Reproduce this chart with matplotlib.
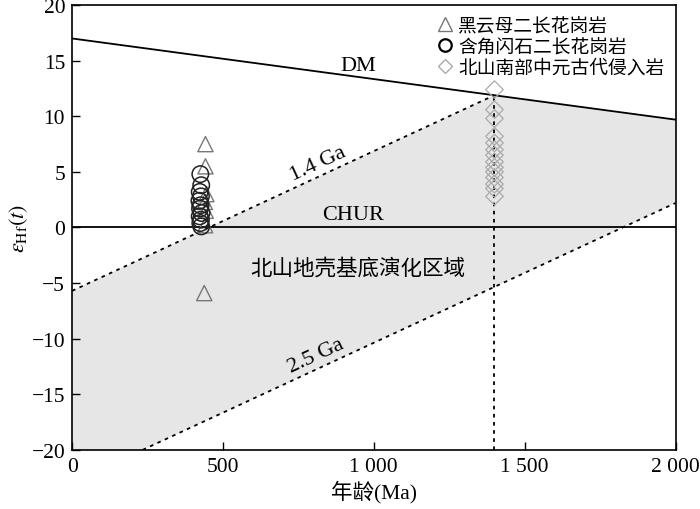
import numpy as np
import matplotlib
matplotlib.use('Agg')
from matplotlib import pyplot as plt
from matplotlib.lines import Line2D

plt.rcParams['font.family'] = ['Liberation Serif', 'Noto Sans CJK SC']
plt.rcParams['mathtext.fontset'] = 'stix'

# model lines (age in Ma, eHf)
dm_age = [0, 2000]
dm_ehf = [17.0, 9.7]
slope_crust = 0.01257          # eHf per Ma of crustal evolution lines
ga14_start = -5.7              # 1.4 Ga line at 0 Ma
ga25_end = 2.2                 # 2.5 Ga line at 2000 Ma

# samples
bt_age = [442, 442, 445, 440, 443, 441, 438]
bt_ehf = [7.5, 5.5, 3.0, 2.3, 1.5, 0.2, -5.9]
hb_age = [425, 428, 423, 427, 422, 426, 424, 429, 423, 427, 425, 428]
hb_ehf = [4.8, 3.8, 3.2, 2.8, 2.4, 2.0, 1.7, 1.3, 1.0, 0.7, 0.4, 0.1]
mp_age = [1400] * 14
mp_ehf = [12.4, 10.6, 9.8, 8.2, 7.6, 7.0, 6.5, 5.9, 5.4, 5.0, 4.5, 3.9, 3.5, 2.8]


def dm(t):
    return np.interp(t, dm_age, dm_ehf)


def line14(t):
    return ga14_start + slope_crust * np.asarray(t)


def line25(t):
    return ga25_end + slope_crust * (np.asarray(t) - 2000)


fig = plt.figure(figsize=(7, 5.1), dpi=100)
ax = fig.add_axes([0.103, 0.116, 0.862, 0.872])

# shaded evolution field
t_cross14 = 1400
t_cross25 = 2000 - (ga25_end + 20) / slope_crust
poly_x = [0, 0, t_cross14, 2000, 2000, t_cross25]
poly_y = [-20, line14(0), line14(t_cross14), dm(2000), line25(2000), -20]
ax.fill(poly_x, poly_y, color='#e6e6e6', lw=0, zorder=0)

ax.plot(dm_age, dm_ehf, color='black', lw=1.3, zorder=2)
ax.axhline(0, color='black', lw=1.3, zorder=2)
dots = (0, (2, 2.5))
t = np.array([0, t_cross14])
ax.plot(t, line14(t), color='black', lw=1.3, ls=dots, zorder=2)
t = np.array([t_cross25, 2000])
ax.plot(t, line25(t), color='black', lw=1.3, ls=dots, zorder=2)
ax.plot([1400, 1400], [-20, dm(1400)], color='black', lw=1.3, ls=dots, zorder=2)

ax.scatter(bt_age, bt_ehf, marker='^', s=120, facecolors='none', edgecolors='#777777', linewidths=1.0, zorder=3)
ax.scatter(hb_age, hb_ehf, marker='o', s=140, facecolors='none', edgecolors='#222222', linewidths=1.1, zorder=4)
ax.scatter(mp_age, mp_ehf, marker='D', s=80, facecolors='none', edgecolors='#aaaaaa', linewidths=0.9, zorder=3)

ang = np.degrees(np.arctan(slope_crust))
ax.text(948, 14.6, 'DM', fontsize=16, ha='center', va='center')
ax.text(932, 1.2, 'CHUR', fontsize=16, ha='center', va='center')
ax.text(815, 5.8, '1.4 Ga', fontsize=16, ha='center', va='center',
        rotation=ang, transform_rotates_text=True, rotation_mode='anchor')
ax.text(810, -11.5, '2.5 Ga', fontsize=16, ha='center', va='center',
        rotation=ang, transform_rotates_text=True, rotation_mode='anchor')
ax.text(948, -3.7, '北山地壳基底演化区域', fontsize=15.5, ha='center', va='center')

ax.set_xlim(0, 2000)
ax.set_ylim(-20, 20)
ax.set_xticks([0, 500, 1000, 1500, 2000])
ax.set_xticklabels(['0', '500', '1 000', '1 500', '2 000'])
ax.set_yticks(range(-20, 21, 5))
ax.set_yticklabels([str(v).replace('-', '\u2212') for v in range(-20, 21, 5)])
ax.tick_params(direction='in', length=6, width=1, labelsize=15.5, pad=5)
for s in ax.spines.values():
    s.set_linewidth(1.2)
ax.set_xlabel('年龄(Ma)', fontsize=15.5, labelpad=3)
ax.set_ylabel(r'$\varepsilon_{\rm Hf}(t)$', fontsize=16, labelpad=1)

handles = [
    Line2D([], [], marker='^', ls='', mfc='none', mec='#777777', ms=10),
    Line2D([], [], marker='o', ls='', mfc='none', mec='black', mew=1.6, ms=9),
    Line2D([], [], marker='D', ls='', mfc='none', mec='#aaaaaa', ms=7),
]
labels = ['黑云母二长花岗岩', '含角闪石二长花岗岩', '北山南部中元古代侵入岩']
ax.legend(handles, labels, loc='upper right', frameon=False,
          handletextpad=0.1, labelspacing=0.0, borderaxespad=0.2, handlelength=1.2,
          bbox_to_anchor=(1.0, 1.005), prop={'family': 'Noto Sans CJK SC', 'size': 13.5})

fig.savefig('out.png', dpi=100)
